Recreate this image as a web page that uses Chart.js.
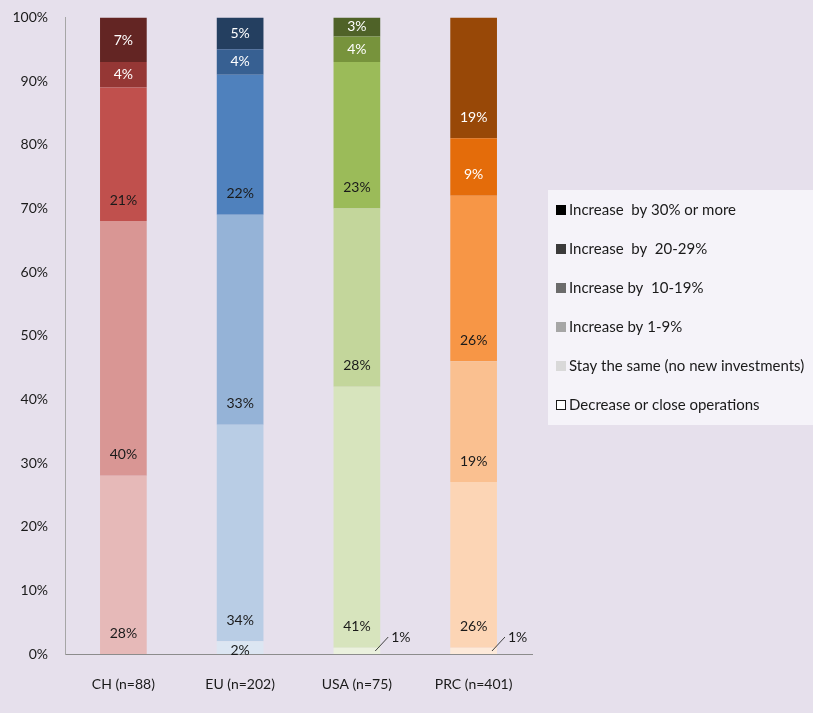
<!DOCTYPE html>
<html>
<head>
<meta charset="utf-8">
<script src="https://cdn.jsdelivr.net/npm/chart.js@4"></script>
<style>
html,body{margin:0;padding:0;background:#E6E0EC;}
#wrap{width:813px;height:713px;position:relative;}
</style>
</head>
<body>
<div id="wrap"><canvas id="c" width="813" height="713"></canvas></div>
<script>
const categories = ['CH (n=88)', 'EU (n=202)', 'USA (n=75)', 'PRC (n=401)'];
const seriesNames = [
  'Decrease or close operations',
  'Stay the same (no new investments)',
  'Increase by 1-9%',
  'Increase by  10-19%',
  'Increase  by  20-29%',
  'Increase  by 30% or more'
];
const decrease   = [0, 2, 1, 1];
const staySame   = [28, 34, 41, 26];
const inc1to9    = [40, 33, 28, 19];
const inc10to19  = [21, 22, 23, 26];
const inc20to29  = [4, 4, 4, 9];
const inc30plus  = [7, 5, 3, 19];
const yTicks = [0, 10, 20, 30, 40, 50, 60, 70, 80, 90, 100];

// colours per series, per country (CH, EU, USA, PRC)
const palette = [
  ['#F2DCDB', '#DCE6F2', '#EBF1DE', '#FDEADA'],
  ['#E6B9B8', '#B9CDE5', '#D7E4BD', '#FCD5B5'],
  ['#D99694', '#95B3D7', '#C3D69B', '#FAC090'],
  ['#C0504D', '#4F81BD', '#9BBB59', '#F79646'],
  ['#953735', '#376092', '#77933C', '#E46C0A'],
  ['#632523', '#243F60', '#4F6228', '#984807']
];
const legendColors = ['#FFFFFF', '#D9D9D9', '#A6A6A6', '#6B6B6B', '#3A3A3A', '#000000'];
const labelColors = ['#1A1A1A', '#1A1A1A', '#1A1A1A', '#1A1A1A', '#FFFFFF', '#FFFFFF'];

const seriesData = [decrease, staySame, inc1to9, inc10to19, inc20to29, inc30plus];
const FONT = 'Lato, "Open Sans", sans-serif';

const datasets = seriesData.map((d, i) => ({
  label: seriesNames[i],
  data: d,
  backgroundColor: palette[i],
  borderWidth: 0,
  barPercentage: 0.4,
  categoryPercentage: 1.0
}));

const valueLabels = {
  id: 'valueLabels',
  afterDatasetsDraw(chart) {
    const ctx = chart.ctx;
    ctx.save();
    ctx.font = '14px ' + FONT;
    ctx.textBaseline = 'middle';
    chart.data.datasets.forEach((ds, di) => {
      const meta = chart.getDatasetMeta(di);
      meta.data.forEach((bar, i) => {
        const v = ds.data[i];
        if (!v) return;
        const top = bar.y, bottom = bar.base;
        const center = (top + bottom) / 2;
        const txt = v + '%';
        if (di === 0 && v < 2) {
          const right = bar.x + bar.width / 2;
          ctx.strokeStyle = '#404040';
          ctx.lineWidth = 1;
          ctx.beginPath();
          ctx.moveTo(right - 5, bottom - 3);
          ctx.lineTo(right + 8, bottom - 17);
          ctx.stroke();
          ctx.fillStyle = '#1A1A1A';
          ctx.textAlign = 'left';
          ctx.fillText(txt, right + 11, bottom - 17);
          return;
        }
        let y = Math.max(bottom - 21, center);
        if (di === 0) y = center + 3;
        ctx.fillStyle = labelColors[di];
        ctx.textAlign = 'center';
        ctx.fillText(txt, bar.x, y);
      });
    });
    ctx.restore();
  }
};

const customLegend = {
  id: 'customLegend',
  afterDraw(chart) {
    const ctx = chart.ctx;
    ctx.save();
    const bx = 548, by = 190, bw = 265, bh = 235;
    ctx.fillStyle = '#F5F3F9';
    ctx.fillRect(bx, by, bw, bh);
    ctx.font = '15px ' + FONT;
    ctx.textBaseline = 'middle';
    ctx.textAlign = 'left';
    for (let r = 0; r < seriesNames.length; r++) {
      const si = seriesNames.length - 1 - r;
      const cy = 210 + r * 39;
      ctx.fillStyle = legendColors[si];
      ctx.fillRect(556, cy - 5, 10, 10);
      if (si === 0) {
        ctx.strokeStyle = '#1A1A1A';
        ctx.lineWidth = 1;
        ctx.strokeRect(556.5, cy - 4.5, 9, 9);
      }
      ctx.fillStyle = '#1A1A1A';
      ctx.fillText(seriesNames[si], 569, cy);
    }
    ctx.restore();
  }
};

new Chart(document.getElementById('c'), {
  type: 'bar',
  data: { labels: categories, datasets },
  options: {
    responsive: false,
    animation: false,
    devicePixelRatio: 1,
    layout: { padding: { top: 14, right: 281, left: 0, bottom: 0 } },
    plugins: { legend: { display: false }, tooltip: { enabled: false } },
    scales: {
      x: {
        stacked: true,
        grid: { display: false },
        border: { display: true, color: '#8C8C8C', width: 1 },
        ticks: { color: '#1A1A1A', font: { family: FONT, size: 14 }, padding: 14 },
        afterFit(s) { s.height = 59; }
      },
      y: {
        stacked: true,
        min: 0, max: 100,
        afterBuildTicks(s) { s.ticks = yTicks.map(v => ({ value: v })); },
        grid: { display: false },
        border: { display: true, color: '#A6A6A6', width: 1 },
        ticks: {
          color: '#1A1A1A',
          font: { family: FONT, size: 14 },
          padding: 9,
          callback: v => v + '%'
        },
        afterFit(s) { s.width = 65; }
      }
    }
  },
  plugins: [valueLabels, customLegend]
});
</script>
</body>
</html>
